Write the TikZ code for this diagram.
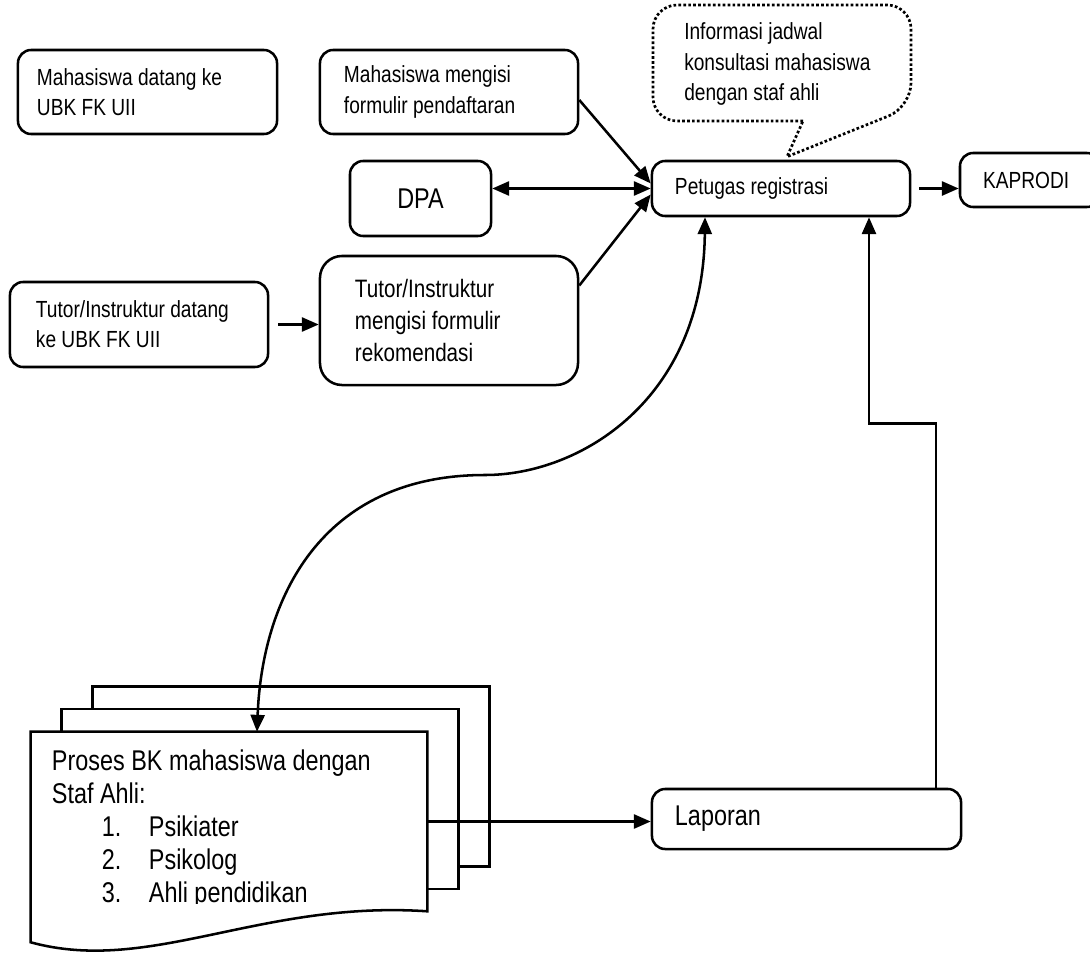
\documentclass[tikz,border=0pt]{standalone}
\usepackage{fontspec}
\setmainfont{Liberation Sans}[FakeStretch=0.82]
\usepackage{tikz}
\usetikzlibrary{positioning, arrows, arrows.meta}

\newcommand{\fkecil}{\fontsize{16.6}{21.5}\selectfont}
\newcommand{\fsedang}{\fontsize{17.9}{23.1}\selectfont}
\newcommand{\fbesar}{\fontsize{20.3}{23.5}\selectfont}

\tikzset{
  kotak/.style={draw, rounded corners=0.33cm, align=flush left, inner ysep=0pt, font=\fkecil},
  panah/.style={-{Triangle[length=12pt,width=10pt]}},
  panahdua/.style={{Triangle[length=12pt,width=10pt]}-{Triangle[length=12pt,width=10pt]}},
}

\begin{document}
\begin{tikzpicture}[x=0.025cm, y=-0.025cm, line width=1.8pt]
\useasboundingbox (0,0) rectangle (1090,953);

% Kotak-kotak atas
\node[kotak, minimum width=6.475cm, minimum height=2.1cm, inner xsep=0.475cm, text width=5.525cm]
  (mhsdatang) at (147.5,92) {Mahasiswa datang ke\\UBK FK UII};
\node[kotak, minimum width=6.45cm, minimum height=2.1cm, inner xsep=0.6cm, text width=5.25cm]
  (mhsisi) at (449,92) {Mahasiswa mengisi\\formulir pendaftaran};
\node[kotak, font=\fbesar, align=center, minimum width=3.525cm, minimum height=1.875cm]
  (dpa) at (420.5,198.5) {DPA};
\node[kotak, minimum width=6.45cm, minimum height=1.375cm, inner xsep=0.575cm, text width=5.3cm]
  (petugas) at (781,188.5) {Petugas registrasi};
\node[kotak, minimum width=3.5cm, minimum height=1.35cm, inner xsep=0.575cm, text width=2.35cm]
  (kaprodi) at (1030,180) {KAPRODI};
\node[kotak, minimum width=6.45cm, minimum height=2.125cm, inner xsep=0.65cm, text width=5.15cm]
  (tutordatang) at (139,324.5) {Tutor/Instruktur datang\\ke UBK FK UII};
\node[kotak, font=\fsedang, rounded corners=0.55cm, minimum width=6.45cm, minimum height=3.225cm,
  inner xsep=0.875cm, text width=4.7cm]
  (tutorisi) at (449,320.5) {Tutor/Instruktur\\mengisi formulir\\rekomendasi};
\node[kotak, font=\fbesar, minimum width=7.725cm, minimum height=1.5cm, inner xsep=0.575cm, text width=6.575cm]
  (laporan) at (806.5,819) {Laporan};

% Callout jadwal (garis titik-titik)
\node[font=\fkecil, align=left, anchor=west, inner sep=0pt] (info) at (683,64)
  {Informasi jadwal\\konsultasi mahasiswa\\dengan staf ahli};
\draw[line width=1.9pt, dash pattern=on 1.9pt off 1.6pt, rounded corners=0.6cm]
  (803,121) -- (653,121) -- (653,5) -- (911,5) -- (911,107) [sharp corners]
  -- ([shift={(6,-3)}]petugas.north) -- cycle;

% Dokumen bertumpuk
\node[minimum width=9.85cm, minimum height=4.425cm, inner sep=0pt] (proses) at (229,821.5) {};
\foreach \s in {2,1}
  \draw[fill=white] ([shift={(31*\s,-22.5*\s)}]proses.south west)
    rectangle ([shift={(31*\s,-22.5*\s)}]proses.north east);
\draw[fill=white] (proses.north west) -- (proses.north east) -- (proses.south east)
  .. controls (260,900) and (150,975) .. ([shift={(0,31)}]proses.south west) -- cycle;
\begin{scope}
\clip (proses.north west) rectangle (500,903);
\node[font=\fbesar, align=left, anchor=north west, inner sep=0pt] (prosestxt)
  at ([shift={(20,17)}]proses.north west)
  {Proses BK mahasiswa dengan\\Staf Ahli:\\
   \hspace*{1.25cm}\makebox[1.175cm][l]{1.}Psikiater\\
   \hspace*{1.25cm}\makebox[1.175cm][l]{2.}Psikolog\\
   \hspace*{1.25cm}\makebox[1.175cm][l]{3.}Ahli pendidikan};
\end{scope}

% Panah ke petugas registrasi
\draw[panah] ([shift={(0,8)}]mhsisi.east) -- ([shift={(0,-5)}]petugas.west);
\draw[panahdua] (dpa.east |- petugas.west) -- (petugas.west);
\draw[panah] ([shift={(0,-35)}]tutorisi.east) -- ([shift={(0,6)}]petugas.west);
\draw[panah, shorten <=0.22cm] (tutordatang.east) -- (tutordatang.east -| tutorisi.west);
\draw[panah, shorten <=0.2cm] (petugas.east) -- (petugas.east -| kaprodi.west);

% Proses BK -> laporan -> petugas
\draw[panah] (proses.east) -- (proses.east -| laporan.west);
\draw[panah] ([shift={(129.5,0)}]laporan.north) -- ++(0,-364) -| ([shift={(88,0)}]petugas.south);

% Lengkung dua arah
\draw[panahdua] ([shift={(-76,0)}]petugas.south)
  .. controls (703,400) and (580,475) .. (485,475)
  .. controls (320,475) and (262,600) .. ([shift={(28,0)}]proses.north);
\end{tikzpicture}
\end{document}
